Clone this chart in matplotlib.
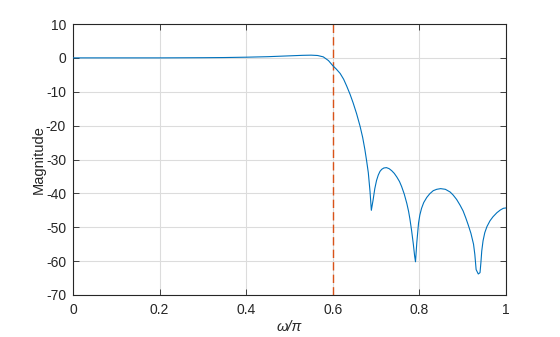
import matplotlib
matplotlib.use("Agg")
import matplotlib.pyplot as plt

# Frequency (normalised, omega/pi) and magnitude (dB)
w = [0.0, 0.1, 0.2, 0.3, 0.35, 0.4, 0.45, 0.5, 0.53, 0.55, 0.565, 0.578, 0.59, 0.6,
     0.608, 0.617, 0.625, 0.632, 0.64, 0.647, 0.655, 0.663, 0.669, 0.674, 0.678,
     0.682, 0.686, 0.689,
     0.693, 0.697, 0.701, 0.705, 0.709, 0.713, 0.718, 0.724, 0.73, 0.736, 0.742,
     0.748, 0.754, 0.759, 0.765, 0.771, 0.775, 0.778, 0.782, 0.786, 0.789, 0.791,
     0.794, 0.798, 0.801, 0.805, 0.81, 0.817, 0.824, 0.832, 0.84, 0.849, 0.86,
     0.871, 0.878, 0.886, 0.894, 0.901, 0.907, 0.913, 0.919, 0.925, 0.928, 0.931,
     0.936, 0.940, 0.942, 0.944, 0.947, 0.951, 0.956, 0.963, 0.97, 0.979, 0.987,
     0.994, 1.0]
mag = [0.0, 0.0, 0.0, 0.05, 0.1, 0.2, 0.35, 0.6, 0.75, 0.8, 0.7, 0.3, -0.8, -2.3,
       -3.3, -4.6, -6.3, -8.3, -10.8, -13.3, -16.5, -20.2, -23.5, -27.0, -30.3,
       -33.9, -39.5, -45.0,
       -42.0, -38.6, -36.2, -34.6, -33.5, -32.9, -32.5, -32.4, -32.7, -33.3, -34.1,
       -35.2, -36.5, -38.0, -40.2, -43.0, -45.3, -47.5, -51.0, -55.0, -58.5, -60.2,
       -54.5, -48.8, -46.4, -44.4, -42.7, -41.2, -40.1, -39.2, -38.8, -38.6, -38.8,
       -39.6, -40.5, -41.8, -43.5, -45.2, -47.2, -49.4, -51.8, -55.0, -58.0, -62.5,
       -63.8, -63.4, -60.5, -57.0, -54.0, -51.6, -49.8, -48.1, -46.9, -45.7, -44.9,
       -44.4, -44.3]

cutoff = 0.6
xticks = [0, 0.2, 0.4, 0.6, 0.8, 1]
xticklabels = ["0", "0.2", "0.4", "0.6", "0.8", "1"]
yticks = [10, 0, -10, -20, -30, -40, -50, -60, -70]

plt.rcParams['font.family'] = ['Liberation Sans', 'DejaVu Sans']
plt.rcParams['axes.unicode_minus'] = False
fig = plt.figure(figsize=(5.6, 3.37), dpi=100)
ax = fig.add_axes([73/560, 1-295/337, (506-73)/560, (295-24)/337])

ax.plot(w, mag, color='#0072BD', lw=0.8, zorder=3)
ax.axvline(cutoff, color='#D95319', lw=1.0, ls=(0, (6, 3)), zorder=2)

ax.set_xlim(0, 1)
ax.set_ylim(-70, 10)
ax.set_xticks(xticks)
ax.set_xticklabels(xticklabels)
ax.set_yticks(yticks)
ax.set_yticklabels([str(v) for v in yticks])
ax.grid(True, color='#dcdcdc', lw=0.8)
ax.set_axisbelow(True)
ax.tick_params(direction='in', top=True, right=True, length=4, width=0.6,
               labelsize=10, colors='#262626')
ax.tick_params(axis='x', pad=6)
ax.tick_params(axis='y', pad=5)
for s in ax.spines.values():
    s.set_linewidth(0.8)
    s.set_color('#262626')

ax.set_xlabel('ω/π', fontsize=10.5, fontstyle='italic', color='#262626', labelpad=2)
ax.set_ylabel('Magnitude', fontsize=10.5, color='#262626', labelpad=0)

fig.savefig('out.png', dpi=100)
